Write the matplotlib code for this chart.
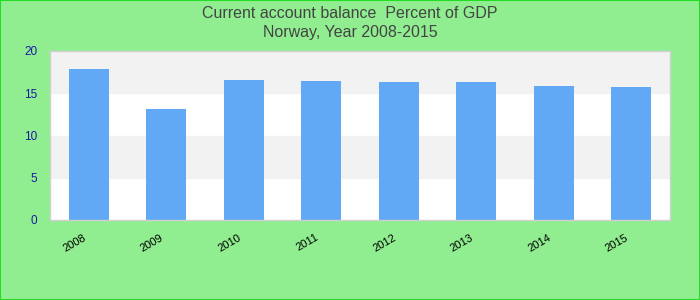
import matplotlib
matplotlib.use('Agg')
import matplotlib.pyplot as plt
import matplotlib.transforms as mtransforms
import numpy as np

plt.rcParams['font.family'] = ['Liberation Sans', 'DejaVu Sans']

years = ['2008', '2009', '2010', '2011', '2012', '2013', '2014', '2015']
balance = [17.9, 13.1, 16.6, 16.4, 16.3, 16.3, 15.9, 15.7]

fig = plt.figure(figsize=(7, 3), dpi=100, facecolor='#90ee90')
fig.patches.append(plt.Rectangle((0, 0), 1, 1, transform=fig.transFigure,
                                 fill=False, edgecolor='#22dd22', lw=1.5))
ax = fig.add_axes([50/700, 80/300, 620/700, 169/300])
ax.set_facecolor('white')

# alternating bands
for lo in range(0, 20, 5):
    if (lo // 5) % 2 == 1:
        ax.axhspan(lo, lo + 5, color='#f2f2f2', zorder=0)

x = np.arange(len(years))
ax.bar(x, balance, width=0.52, color='#62a9f5', zorder=2)
ax.set_xlim(-0.5, len(years) - 0.5)
ax.set_ylim(0, 20)
ax.set_yticks([0, 5, 10, 15, 20])
ax.set_xticks(x)
ax.set_xticklabels(years, rotation=30, fontsize=8, color='black',
                   ha='right', rotation_mode='anchor')
ax.tick_params(axis='y', colors='#1a1aa0', labelsize=8.5, length=0, pad=9)
ax.tick_params(axis='x', length=0, pad=9)
shift = mtransforms.ScaledTranslation(-6/100, 0, fig.dpi_scale_trans)
for lab in ax.get_xticklabels():
    lab.set_transform(lab.get_transform() + shift)
for lab in ax.get_yticklabels():
    lab.set_color('#1a1aa0')
for s in ax.spines.values():
    s.set_color('#d0d0d0')
    s.set_linewidth(1)

fig.text(0.5, 0.955, 'Current account balance  Percent of GDP', ha='center',
         va='center', fontsize=11.5, color='#444444')
fig.text(0.5, 0.89, 'Norway, Year 2008-2015', ha='center', va='center',
         fontsize=11.5, color='#444444')

fig.savefig('out.png', dpi=100, facecolor=fig.get_facecolor())
